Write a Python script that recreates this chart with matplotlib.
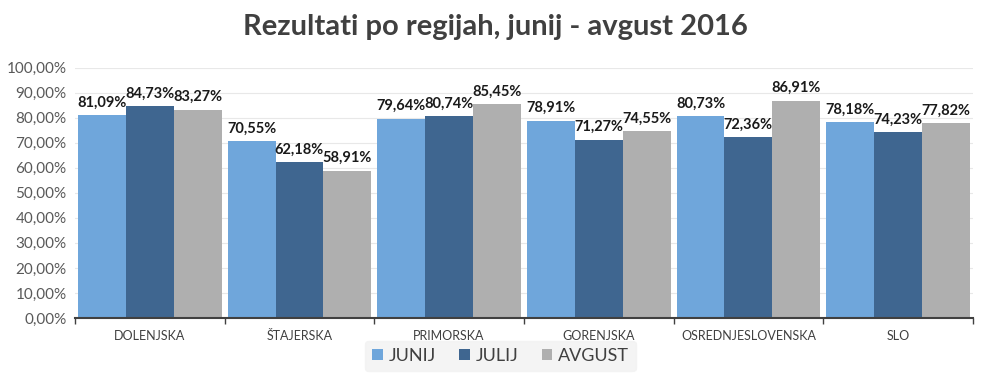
import numpy as np
import matplotlib.pyplot as plt

plt.rcParams['font.family'] = ['Lato', 'DejaVu Sans']

regije = ["DOLENJSKA", "ŠTAJERSKA", "PRIMORSKA", "GORENJSKA", "OSREDNJESLOVENSKA", "SLO"]
junij = [81.09, 70.55, 79.64, 78.91, 80.73, 78.18]
julij = [84.73, 62.18, 80.74, 71.27, 72.36, 74.23]
avgust = [83.27, 58.91, 85.45, 74.55, 86.91, 77.82]

serije = [("JUNIJ", junij, "#6fa6db"), ("JULIJ", julij, "#3f6690"), ("AVGUST", avgust, "#afafaf")]


def fmt(v):
    return f"{v:.2f}%".replace(".", ",")


fig = plt.figure(figsize=(9.91, 3.92), dpi=100)
ax = fig.add_axes([0.0757, 0.189, 0.906, 0.638])

x = np.arange(len(regije))
w = 0.32
for i, (ime, vals, barva) in enumerate(serije):
    pos = x + (i - 1) * w
    ax.bar(pos, vals, w, color=barva, label=ime, zorder=2)
    for p, v in zip(pos, vals):
        ax.text(p, v + 2.2, fmt(v), ha="center", va="bottom", fontsize=10.5,
                fontweight="bold", color="#1a1a1a", zorder=4)

ax.set_xlim(-0.5, len(regije) - 0.5)
ax.set_ylim(0, 100)
ax.set_yticks(np.arange(0, 101, 10))
ax.set_yticklabels([fmt(v) for v in np.arange(0, 101, 10)], fontsize=11, color="#595959")
ax.yaxis.grid(True, color="#d9d9d9", lw=0.8, zorder=3, alpha=0.6)
ax.tick_params(axis="y", length=0, pad=6)

ax.set_xticks(np.arange(-0.5, len(regije), 1), minor=False)
ax.set_xticklabels([])
ax.set_xticks(x, minor=True)
ax.set_xticklabels(regije, minor=True, fontsize=9, color="#404040")
ax.tick_params(axis="x", which="major", length=4, color="#404040", width=1)
ax.tick_params(axis="x", which="minor", length=0, pad=9)

for s in ["top", "right", "left"]:
    ax.spines[s].set_visible(False)
ax.spines["bottom"].set_color("#404040")
ax.spines["bottom"].set_linewidth(1.5)

fig.suptitle("Rezultati po regijah, junij - avgust 2016", x=0.5, y=0.965,
             fontsize=21, fontweight="bold", color="#404040")

leg = fig.legend(loc="center", bbox_to_anchor=(0.505, 0.092), ncol=3, frameon=True,
                 fontsize=13, handlelength=0.6, handleheight=0.6, handletextpad=0.3,
                 columnspacing=1.3, borderpad=0.4)
leg.get_frame().set_facecolor("#f2f2f2")
leg.get_frame().set_edgecolor("#f2f2f2")
for t in leg.get_texts():
    t.set_color("#404040")

fig.savefig("out.png", dpi=100)
